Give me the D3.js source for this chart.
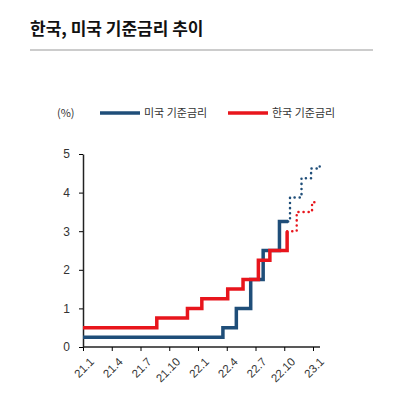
<!DOCTYPE html><html><head><meta charset="utf-8"><script src="https://cdn.jsdelivr.net/npm/d3@7"></script>
<style>body{margin:0;background:#fff;font-family:"Noto Sans CJK KR","Noto Sans",sans-serif}</style></head><body><svg id="c" width="403" height="403"></svg><script>
const xTicks=["21.1","21.4","21.7","21.10","22.1","22.4","22.7","22.10","23.1"];
const yTicks=[0,1,2,3,4,5];
const usSolid=[[0,0.25],[14.6,0.5],[16,1.0],[17.5,1.75],[18.8,2.5],[20.5,3.25],[21.4,3.25]];
const usDot=[[21.4,3.25],[21.6,3.875],[22.8,4.375],[23.8,4.625],[24.7,4.75]];
const krSolid=[[0,0.5],[7.7,0.75],[10.9,1.0],[12.4,1.25],[15.1,1.5],[16.7,1.75],[18.3,2.25],[19.5,2.5],[21.3,3.0]];
const krDot=[[21.3,3.0],[22.3,3.5],[23.9,3.75],[24.2,3.75]];
const svg=d3.select("#c");
svg.append("text").attr("x",30).attr("y",35).attr("font-size",17).attr("font-weight","bold").attr("fill","#111").text("한국, 미국 기준금리 추이");
svg.append("line").attr("x1",30).attr("x2",373).attr("y1",50).attr("y2",50).attr("stroke","#999");
const x=d3.scaleLinear().domain([0,24]).range([83,313]);
const y=d3.scaleLinear().domain([0,5]).range([347,154]);
const g=svg.append("g");
g.append("g").attr("transform","translate(0,347)").call(d3.axisBottom(x).tickValues(d3.range(0,25,3)).tickFormat((d,i)=>xTicks[i]).tickSize(4).tickSizeOuter(0))
 .call(a=>{a.select(".domain").attr("d","M83,0H320").attr("stroke","#222").attr("stroke-width",1.5);a.selectAll("text").attr("transform","rotate(-45)").attr("text-anchor","end").attr("dx","-3").attr("dy","12").attr("font-size",11.5).attr("fill","#333");});
g.append("g").attr("transform","translate(83,0)").call(d3.axisLeft(y).tickValues(yTicks).tickFormat(d3.format("d")).tickSize(4).tickSizeOuter(0))
 .call(a=>{a.select(".domain").attr("stroke","#222").attr("stroke-width",1.5);a.selectAll("text").attr("font-size",12).attr("fill","#333").attr("dx","-6");});
const line=d3.line().x(d=>x(d[0])).y(d=>y(d[1])).curve(d3.curveStepAfter);
const draw=(data,c,dot)=>g.append("path").attr("d",line(data)).attr("fill","none").attr("stroke",c).attr("stroke-width",dot?2.5:3.5).attr("stroke-dasharray",dot?"0.1 5":null).attr("stroke-linecap",dot?"round":"butt");
draw(usSolid,"#1f4e79",false);draw(krSolid,"#e8151c",false);draw(usDot,"#1f4e79",true);draw(krDot,"#e8151c",true);
svg.append("text").attr("x",57).attr("y",117).attr("font-size",11).attr("fill","#333").text("(%)");
const leg=[["미국 기준금리","#1f4e79",100],["한국 기준금리","#e8151c",228]];
leg.forEach(l=>{svg.append("line").attr("x1",l[2]).attr("x2",l[2]+40).attr("y1",113).attr("y2",113).attr("stroke",l[1]).attr("stroke-width",3.5);
svg.append("text").attr("x",l[2]+44).attr("y",117).attr("font-size",11).attr("fill","#333").text(l[0]);});
</script></body></html>
